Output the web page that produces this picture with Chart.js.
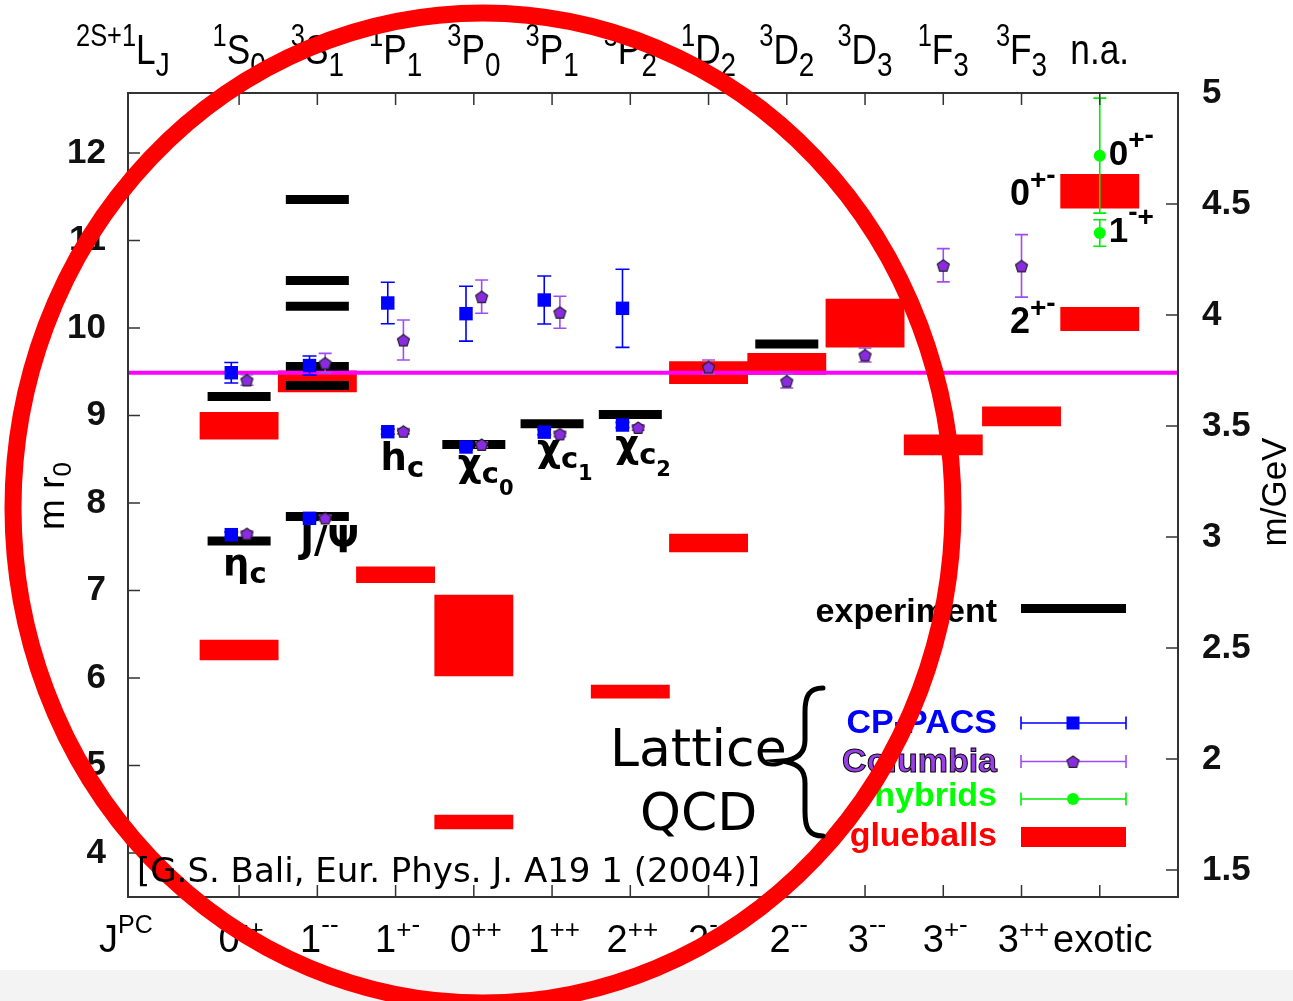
<!DOCTYPE html>
<html>
<head>
<meta charset="utf-8">
<title>Charmonium spectrum</title>
<script src="https://cdn.jsdelivr.net/npm/chart.js@4.4.1/dist/chart.umd.min.js"></script>
<style>
  html, body { margin: 0; padding: 0; background: #fff; }
  canvas { display: block; }
</style>
</head>
<body>
<canvas id="spectrum" width="1293" height="1001"></canvas>
<script>
// J^PC columns and their spectroscopic names
const categoryPos = [1, 2, 3, 4, 5, 6, 7, 8, 9, 10, 11, 12];
const jpcJ = ["0", "1", "1", "0", "1", "2", "2", "2", "3", "3", "3", "exotic"];
const jpcPC = ["-+", "--", "+-", "++", "++", "++", "-+", "--", "--", "+-", "++", ""];
const specSup = ["1", "3", "1", "3", "3", "3", "1", "3", "3", "1", "3", ""];
const specL = ["S", "S", "P", "P", "P", "P", "D", "D", "D", "F", "F", "n.a."];
const specSub = ["0", "1", "1", "0", "1", "2", "2", "2", "3", "3", "3", ""];

// axes
const leftTicks = [4, 5, 6, 7, 8, 9, 10, 11, 12];
const rightTicks = [1.5, 2, 2.5, 3, 3.5, 4, 4.5, 5];
const mr0Range = [3.497, 12.686];
const gevTop = 5;
const mr0PerGeV = mr0Range[1] / gevTop;
const xRange = [-0.42, 13.0];
const ddThreshold = 9.49; // open charm threshold, m r0

// experiment (black bars)
const expCat = [1, 1, 2, 2, 2, 2, 2, 2, 4, 5, 6, 8];
const expMass = [7.566, 9.217, 7.846, 9.343, 9.56, 10.25, 10.543, 11.47, 8.669, 8.906, 9.011, 9.817];

// glueballs (red boxes, low/high edge)
const glueCat = [1, 1, 2, 3, 4, 4, 6, 7, 7, 8, 9, 10, 11, 12, 12];
const glueLo = [8.729, 6.206, 9.27, 7.09, 6.023, 4.274, 5.77, 9.363, 7.44, 9.47, 9.78, 8.55, 8.88, 11.371, 9.969];
const glueHi = [9.037, 6.434, 9.51, 7.27, 6.949, 4.434, 5.92, 9.615, 7.646, 9.71, 10.33, 8.78, 9.10, 11.757, 10.237];
const exoticGlueNames = [["0", "+-"], ["2", "+-"]];

// CP-PACS lattice
const cpCat = [1, 1, 2, 2, 3, 3, 4, 4, 5, 5, 6, 6];
const cpMass = [7.638, 9.489, 7.825, 9.571, 8.815, 10.286, 8.64, 10.164, 8.81, 10.32, 8.891, 10.225];
const cpErr = [0.03, 0.117, 0.03, 0.11, 0.03, 0.237, 0.03, 0.314, 0.03, 0.274, 0.03, 0.446];

// Columbia lattice
const coCat = [1, 1, 2, 2, 3, 3, 4, 4, 5, 5, 6, 7, 8, 9, 10, 11];
const coMass = [7.65, 9.406, 7.829, 9.60, 8.82, 9.863, 8.669, 10.358, 8.79, 10.18, 8.863, 9.554, 9.394, 9.691, 10.717, 10.71];
const coErr = [0.03, 0.06, 0.03, 0.11, 0.03, 0.229, 0.03, 0.19, 0.03, 0.183, 0.03, 0.08, 0.08, 0.08, 0.19, 0.357];

// hybrids
const hyCat = [12, 12];
const hyMass = [11.97, 11.086];
const hyErr = [0.657, 0.152];
const hyNames = [["0", "+-"], ["1", "-+"]];

// state names under the experiment bars
const stateNames = [
  { cat: 1, mass: 7.566, main: "η", sub: "c", sub2: "" },
  { cat: 2, mass: 7.846, main: "J/Ψ", sub: "", sub2: "" },
  { cat: 3, mass: 8.815, main: "h", sub: "c", sub2: "" },
  { cat: 4, mass: 8.669, main: "χ", sub: "c", sub2: "0" },
  { cat: 5, mass: 8.906, main: "χ", sub: "c", sub2: "1" },
  { cat: 6, mass: 9.011, main: "χ", sub: "c", sub2: "2" },
];
// pixel placement of those names (left edge offset, baseline offset)
const stateNameOffsets = [[-16, 35], [-17, 36], [-15, 38], [-16, 32], [-15, 37], [-15, 42]];

const SANS = "'Liberation Sans', Arial, sans-serif";
const DJV = "'DejaVu Sans', sans-serif";

function pentagon(size, fill, stroke) {
  const c = document.createElement("canvas");
  c.width = size;
  c.height = size;
  const g = c.getContext("2d");
  const r = size / 2 - 1.2;
  g.beginPath();
  for (let k = 0; k < 5; k++) {
    const a = -Math.PI / 2 + (k * 2 * Math.PI) / 5;
    const px = size / 2 + r * Math.cos(a);
    const py = size / 2 + 0.8 + r * Math.sin(a);
    if (k === 0) g.moveTo(px, py);
    else g.lineTo(px, py);
  }
  g.closePath();
  g.fillStyle = fill;
  g.fill();
  g.lineWidth = 1.2;
  g.strokeStyle = stroke;
  g.stroke();
  return c;
}
const pentMark = pentagon(15, "#8a2be2", "#222");

// text made of several runs (superscripts, subscripts)
function rich(ctx, parts, x, y, align, sx) {
  sx = sx || 1;
  const widths = parts.map((p) => {
    ctx.font = p.f;
    return ctx.measureText(p.t).width * sx;
  });
  const total = widths.reduce((a, b) => a + b, 0);
  let px = align === "center" ? x - total / 2 : align === "right" ? x - total : x;
  ctx.textAlign = "left";
  ctx.textBaseline = "alphabetic";
  parts.forEach((p, i) => {
    ctx.font = p.f;
    ctx.save();
    ctx.translate(px, y + (p.dy || 0));
    ctx.scale(sx, 1);
    ctx.fillText(p.t, 0, 0);
    ctx.restore();
    px += widths[i];
  });
}
function supRun(str, font, dy) {
  return str.split("").map((ch) => ({ t: ch, f: font, dy: ch === "-" ? dy - 5 : dy }));
}

function errorBar(ctx, x, yHi, yLo, cap) {
  ctx.beginPath();
  ctx.moveTo(x, yHi);
  ctx.lineTo(x, yLo);
  ctx.moveTo(x - cap, yHi);
  ctx.lineTo(x + cap, yHi);
  ctx.moveTo(x - cap, yLo);
  ctx.lineTo(x + cap, yLo);
  ctx.stroke();
}

const decorations = {
  id: "decorations",
  beforeDraw(chart) {
    const ctx = chart.ctx;
    ctx.save();
    ctx.fillStyle = "#fff";
    ctx.fillRect(0, 0, chart.width, chart.height);
    ctx.fillStyle = "#f3f3f3";
    ctx.fillRect(0, 970, chart.width, chart.height - 970);
    ctx.restore();
  },
  beforeDatasetDraw(chart, args) {
    const ds = chart.data.datasets[args.index];
    if (!ds.errors) return;
    const ys = chart.scales.y;
    const ctx = chart.ctx;
    ctx.save();
    ctx.strokeStyle = ds.errColor;
    ctx.lineWidth = 1.6;
    args.meta.data.forEach((pt, i) => {
      const v = ds.data[i].y;
      const e = ds.errors[i];
      errorBar(ctx, pt.x, ys.getPixelForValue(v + e), ys.getPixelForValue(v - e), ds.capHalf);
    });
    ctx.restore();
  },
  afterDraw(chart) {
    const ctx = chart.ctx;
    const xs = chart.scales.x;
    const ys = chart.scales.y;
    const y2 = chart.scales.y2;
    const { left, right, top, bottom } = chart.chartArea;
    ctx.save();

    // frame and inward ticks
    ctx.strokeStyle = "#333";
    ctx.lineWidth = 2;
    ctx.strokeRect(left, top, right - left, bottom - top);
    ctx.lineWidth = 1.5;
    ctx.beginPath();
    leftTicks.forEach((v) => {
      const y = ys.getPixelForValue(v);
      ctx.moveTo(left, y);
      ctx.lineTo(left + 12, y);
    });
    rightTicks.forEach((v) => {
      const y = y2.getPixelForValue(v);
      ctx.moveTo(right - 12, y);
      ctx.lineTo(right, y);
    });
    categoryPos.forEach((c) => {
      const x = xs.getPixelForValue(c);
      ctx.moveTo(x, top);
      ctx.lineTo(x, top + 12);
      ctx.moveTo(x, bottom - 12);
      ctx.lineTo(x, bottom);
    });
    ctx.stroke();

    // top row: spectroscopic notation
    ctx.fillStyle = "#000";
    const topBase = 64;
    rich(ctx, [
      { t: "2S+1", f: "31px " + SANS, dy: -18 },
      { t: "L", f: "43px " + SANS },
      { t: "J", f: "34px " + SANS, dy: 12 },
    ], 76, topBase, "left", 0.82);
    categoryPos.forEach((c, i) => {
      rich(ctx, [
        { t: specSup[i], f: "31px " + SANS, dy: -18 },
        { t: specL[i], f: "43px " + SANS },
        { t: specSub[i], f: "34px " + SANS, dy: 12 },
      ], xs.getPixelForValue(c), topBase, "center", 0.82);
    });

    // bottom row: J^PC
    const botBase = 952;
    rich(ctx, [{ t: "J", f: "38px " + SANS }, { t: "PC", f: "25px " + SANS, dy: -19 }], 99, botBase, "left");
    categoryPos.forEach((c, i) => {
      const x = xs.getPixelForValue(c);
      if (jpcPC[i] === "") {
        rich(ctx, [{ t: jpcJ[i], f: "38px " + SANS }], x + 3, botBase, "center");
      } else {
        rich(ctx, [{ t: jpcJ[i], f: "38px " + SANS }].concat(supRun(jpcPC[i], "26px " + SANS, -14)), x + 2, botBase, "center");
      }
    });

    // axis titles
    ctx.save();
    ctx.translate(64, 496);
    ctx.rotate(-Math.PI / 2);
    rich(ctx, [{ t: "m r", f: "37px " + SANS }, { t: "0", f: "26px " + SANS, dy: 7 }], 0, 0, "center");
    ctx.restore();
    ctx.save();
    ctx.translate(1286, 492);
    ctx.rotate(-Math.PI / 2);
    rich(ctx, [{ t: "m/GeV", f: "35px " + SANS }], 0, 0, "center");
    ctx.restore();

    // state names
    stateNames.forEach((s, i) => {
      const x = xs.getPixelForValue(s.cat) + stateNameOffsets[i][0];
      const y = ys.getPixelForValue(s.mass) + stateNameOffsets[i][1];
      const parts = [{ t: s.main, f: "bold 37px " + DJV }];
      if (s.sub) parts.push({ t: s.sub, f: "bold 29px " + DJV, dy: 7 });
      if (s.sub2) parts.push({ t: s.sub2, f: "bold 21px " + DJV, dy: 19 });
      rich(ctx, parts, x, y, "left");
    });

    // exotic labels
    const hyMeta = chart.getDatasetMeta(5);
    hyMeta.data.forEach((pt, i) => {
      rich(ctx, [{ t: hyNames[i][0], f: "bold 35px " + SANS }].concat(supRun(hyNames[i][1], "bold 28px " + SANS, -16)), pt.x + 9, pt.y + 9, "left");
    });
    const glueMeta = chart.getDatasetMeta(0);
    let k = 0;
    glueCat.forEach((c, i) => {
      if (c !== 12) return;
      const bar = glueMeta.data[i];
      const yc = (ys.getPixelForValue(glueLo[i]) + ys.getPixelForValue(glueHi[i])) / 2;
      const nm = exoticGlueNames[k++];
      rich(ctx, [{ t: nm[0], f: "bold 36px " + SANS }].concat(supRun(nm[1], "bold 28px " + SANS, -16)), bar.x - bar.width / 2 - 5, yc + 14, "right");
    });

    // legend
    const lx1 = 1021, lx2 = 1126, lxm = 1073, tx = 997;
    ctx.textAlign = "right";
    ctx.textBaseline = "alphabetic";
    ctx.font = "bold 34px " + SANS;
    ctx.fillStyle = "#000";
    ctx.fillText("experiment", tx, 622);
    ctx.strokeStyle = "#000";
    ctx.lineWidth = 9;
    ctx.beginPath();
    ctx.moveTo(lx1, 608.5);
    ctx.lineTo(lx2, 608.5);
    ctx.stroke();

    ctx.fillStyle = "#0000ff";
    ctx.fillText("CP-PACS", tx, 733);
    ctx.strokeStyle = "#0000ff";
    ctx.lineWidth = 1.6;
    ctx.beginPath();
    ctx.moveTo(lx1, 723);
    ctx.lineTo(lx2, 723);
    ctx.moveTo(lx1, 716.5);
    ctx.lineTo(lx1, 729.5);
    ctx.moveTo(lx2, 716.5);
    ctx.lineTo(lx2, 729.5);
    ctx.stroke();
    ctx.fillRect(lxm - 6.5, 723 - 6.5, 13, 13);

    ctx.fillStyle = "#9a3ee8";
    ctx.fillText("Columbia", tx, 772);
    ctx.strokeStyle = "#000";
    ctx.lineWidth = 1;
    ctx.strokeText("Columbia", tx, 772);
    ctx.strokeStyle = "#a04cf5";
    ctx.lineWidth = 1.6;
    ctx.beginPath();
    ctx.moveTo(lx1, 761.5);
    ctx.lineTo(lx2, 761.5);
    ctx.moveTo(lx1, 755);
    ctx.lineTo(lx1, 768);
    ctx.moveTo(lx2, 755);
    ctx.lineTo(lx2, 768);
    ctx.stroke();
    ctx.drawImage(pentMark, lxm - 7.5, 761.5 - 7.5);

    ctx.fillStyle = "#00ff00";
    ctx.fillText("hybrids", tx, 806);
    ctx.strokeStyle = "#00ee00";
    ctx.beginPath();
    ctx.moveTo(lx1, 799);
    ctx.lineTo(lx2, 799);
    ctx.moveTo(lx1, 792.5);
    ctx.lineTo(lx1, 805.5);
    ctx.moveTo(lx2, 792.5);
    ctx.lineTo(lx2, 805.5);
    ctx.stroke();
    ctx.beginPath();
    ctx.arc(lxm, 799, 6, 0, Math.PI * 2);
    ctx.fill();

    ctx.fillStyle = "#ff0000";
    ctx.fillText("glueballs", tx, 846);
    ctx.fillRect(lx1, 827, lx2 - lx1, 20);

    // the red ring drawn over the slide
    ctx.strokeStyle = "#ff0000";
    ctx.lineWidth = 17;
    ctx.beginPath();
    ctx.ellipse(483, 508, 470, 495, 0, 0, Math.PI * 2);
    ctx.stroke();

    // Lattice QCD brace and citation
    ctx.fillStyle = "#000";
    ctx.textAlign = "left";
    ctx.font = "52px " + DJV;
    ctx.fillText("Lattice", 610, 766);
    ctx.fillText("QCD", 640, 830);
    ctx.strokeStyle = "#000";
    ctx.lineWidth = 5;
    ctx.lineCap = "round";
    ctx.beginPath();
    ctx.moveTo(823, 688);
    ctx.bezierCurveTo(809, 688, 805, 696, 805, 712);
    ctx.lineTo(805, 740);
    ctx.bezierCurveTo(805, 754, 796, 760, 782, 761);
    ctx.bezierCurveTo(796, 763, 805, 768, 805, 783);
    ctx.lineTo(805, 812);
    ctx.bezierCurveTo(805, 828, 809, 836, 823, 836);
    ctx.stroke();
    ctx.font = "34px " + DJV;
    ctx.fillText("[G.S. Bali, Eur. Phys. J. A19 1 (2004)]", 137, 882);

    ctx.restore();
  },
};

Chart.defaults.font.family = SANS;

new Chart(document.getElementById("spectrum"), {
  type: "scatter",
  data: {
    datasets: [
      {
        type: "bar",
        label: "glueballs",
        data: glueCat.map((c, i) => ({ x: c, y: [glueLo[i], glueHi[i]] })),
        backgroundColor: "#ff0000",
        borderWidth: 0,
        barPercentage: 1,
        categoryPercentage: 1,
        grouped: false,
        order: 5,
      },
      {
        type: "scatter",
        label: "experiment",
        data: expCat.map((c, i) => ({ x: c, y: expMass[i] })),
        pointStyle: "line",
        pointRadius: 31.5,
        borderColor: "#000",
        pointBorderColor: "#000",
        borderWidth: 9,
        pointBorderWidth: 9,
        order: 4,
      },
      {
        type: "line",
        label: "threshold",
        data: [{ x: xRange[0], y: ddThreshold }, { x: xRange[1], y: ddThreshold }],
        borderColor: "#ff00ff",
        borderWidth: 4,
        pointRadius: 0,
        order: 3,
      },
      {
        type: "scatter",
        label: "CP-PACS",
        data: cpCat.map((c, i) => ({ x: c - 0.1, y: cpMass[i] })),
        errors: cpErr,
        errColor: "#0000ff",
        capHalf: 7,
        pointStyle: "rect",
        pointRadius: 9.5,
        backgroundColor: "#0000ff",
        pointBackgroundColor: "#0000ff",
        borderWidth: 0,
        pointBorderWidth: 0,
        order: 2,
      },
      {
        type: "scatter",
        label: "Columbia",
        data: coCat.map((c, i) => ({ x: cpCat.includes(c) ? c + 0.1 : c, y: coMass[i] })),
        errors: coErr,
        errColor: "#a04cf5",
        capHalf: 6.5,
        pointStyle: pentMark,
        pointRadius: 7,
        order: 1,
      },
      {
        type: "scatter",
        label: "hybrids",
        data: hyCat.map((c, i) => ({ x: c, y: hyMass[i] })),
        errors: hyErr,
        errColor: "#00ee00",
        capHalf: 6.5,
        pointStyle: "circle",
        pointRadius: 6,
        backgroundColor: "#00ff00",
        pointBackgroundColor: "#00ff00",
        borderWidth: 0,
        pointBorderWidth: 0,
        order: 0,
      },
    ],
  },
  options: {
    responsive: false,
    animation: false,
    events: [],
    layout: { padding: { top: 93, bottom: 104, left: 0, right: 0 } },
    plugins: { legend: { display: false }, tooltip: { enabled: false } },
    scales: {
      x: {
        type: "linear",
        display: false,
        offset: false,
        min: xRange[0],
        max: xRange[1],
        afterBuildTicks: (s) => {
          s.ticks = categoryPos.map((v) => ({ value: v }));
        },
      },
      y: {
        type: "linear",
        position: "left",
        min: mr0Range[0],
        max: mr0Range[1],
        grid: { display: false, drawTicks: false },
        border: { display: false },
        afterBuildTicks: (s) => {
          s.ticks = leftTicks.map((v) => ({ value: v }));
        },
        afterFit: (s) => {
          s.width = 128;
        },
        ticks: { padding: 22, color: "#111", font: { size: 35, weight: "bold" }, callback: (v) => String(v) },
      },
      y2: {
        type: "linear",
        position: "right",
        min: mr0Range[0] / mr0PerGeV,
        max: gevTop,
        grid: { display: false, drawTicks: false },
        border: { display: false },
        afterBuildTicks: (s) => {
          s.ticks = rightTicks.map((v) => ({ value: v }));
        },
        afterFit: (s) => {
          s.width = 115;
        },
        ticks: { padding: 24, color: "#111", font: { size: 35, weight: "bold" }, callback: (v) => String(v) },
      },
    },
  },
  plugins: [decorations],
});
</script>
</body>
</html>
